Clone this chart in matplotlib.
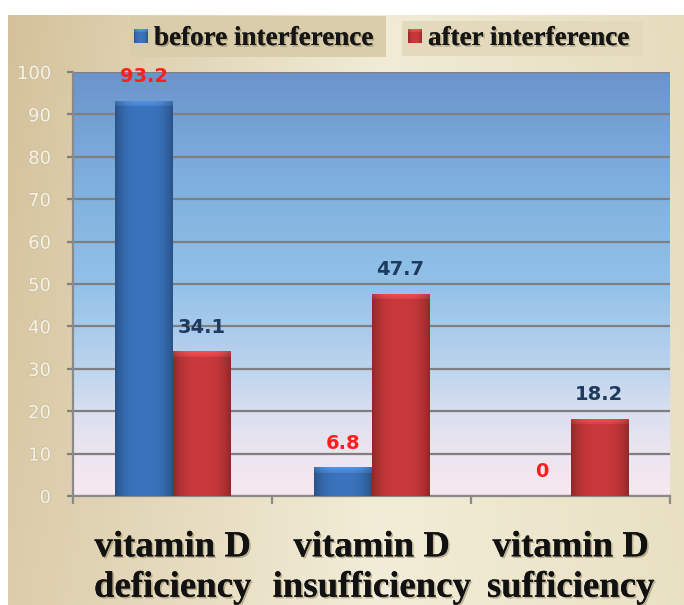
import matplotlib
matplotlib.use("Agg")
import matplotlib.pyplot as plt
import matplotlib.patheffects as pe
from matplotlib.patches import Rectangle
from matplotlib.colors import LinearSegmentedColormap, to_rgb
import numpy as np

# data
categories = ["vitamin D\ndeficiency", "vitamin D\ninsufficiency", "vitamin D\nsufficiency"]
series_names = ["before interference", "after interference"]
before = [93.2, 6.8, 0]
after = [34.1, 47.7, 18.2]
yticks = [0, 10, 20, 30, 40, 50, 60, 70, 80, 90, 100]

W, H = 684, 605
fig = plt.figure(figsize=(W / 100, H / 100), dpi=100)
fig.patch.set_facecolor("white")

# figure background (beige gradient), pixel coords
bg = fig.add_axes([0, 0, 1, 1])
bg.set_xlim(0, W)
bg.set_ylim(H, 0)
bg.axis("off")
xs = np.linspace(0, 1, 300)
ys = np.linspace(0, 1, 300)
gx, gy = np.meshgrid(xs, ys)
left_c = np.array(to_rgb("#d4c19a"))
mid_c = np.array(to_rgb("#f1ecd6"))
right_c = np.array(to_rgb("#e6dcbc"))
t = np.clip(gx / 0.55, 0, 1)[..., None]
t2 = np.clip((gx - 0.55) / 0.45, 0, 1)[..., None]
col = np.where(gx[..., None] < 0.55, left_c * (1 - t) + mid_c * t, mid_c * (1 - t2) + right_c * t2)
col = col * (1 - 0.25 * gy[..., None]) + np.array(to_rgb("#f4f0dc")) * 0.25 * gy[..., None]
bg.imshow(col, extent=[8, W, H, 15], aspect="auto", zorder=0)
bg.set_xlim(0, W)
bg.set_ylim(H, 0)


def shade_img(base, n_rows, bevel_rows=5, dark=0.72, light=1.2):
    c = np.array(to_rgb(base))
    xx = np.linspace(-1, 1, 60)
    prof = 1 - (1 - dark) * np.abs(xx) ** 3
    row = np.clip(c[None, :] * prof[:, None], 0, 1)
    img = np.repeat(row[None, :, :], max(n_rows, 1), axis=0)
    b = min(bevel_rows, n_rows)
    for i in range(b):
        f = light - (light - 1) * i / max(b, 1)
        img[i] = np.clip(img[i] * f + 0.04, 0, 1)
    return img


# legend boxes and entries
bg.add_patch(Rectangle((130, 16), 256, 41, facecolor="#dacdac", edgecolor="none", zorder=1))
bg.add_patch(Rectangle((402, 21), 241, 35, facecolor="#e3d9bc", edgecolor="none", zorder=1))
shadow = [pe.withSimplePatchShadow(offset=(1.2, -1.2), shadow_rgbFace="#8a7a5a", alpha=0.5), pe.Normal()]
for mx, my, c, name in [(134, 29, "#3a74bd", series_names[0]), (408, 29, "#c9383b", series_names[1])]:
    sq = Rectangle((mx, my), 14, 14, facecolor=c, edgecolor="none", zorder=2)
    bg.add_patch(sq)
    im = bg.imshow(shade_img(c, 14, 3), extent=[mx, mx + 14, my + 14, my], aspect="auto", zorder=3)
    im.set_clip_path(sq)
    bg.text(mx + 20, 45, name, fontsize=19.5, family="Liberation Serif", weight="bold",
            color="#151515", va="baseline", ha="left", zorder=4, path_effects=shadow)
bg.set_xlim(0, W)
bg.set_ylim(H, 0)

# main axes
x0, x1, y0, y1 = 73, 670, 72, 496
ax = fig.add_axes([x0 / W, 1 - y1 / H, (x1 - x0) / W, (y1 - y0) / H])
ax.patch.set_visible(False)

cmap = LinearSegmentedColormap.from_list("plotbg", [
    (0.0, "#f8e8f0"), (0.1, "#ece5f0"), (0.2, "#d9dfef"), (0.3, "#bcd4ee"),
    (0.5, "#92c1e8"), (0.7, "#82b3df"), (0.85, "#77a5d7"), (1.0, "#6a94cb")])
grad = np.linspace(0, 1, 256)[::-1, None]
ax.imshow(grad, cmap=cmap, extent=[-0.5, 2.5, 0, 100], aspect="auto", zorder=0)

x = np.arange(len(categories))
w = 0.29
px_per_unit = (y1 - y0) / 100
for vals, off, base, lab_col in [(before, -w / 2, "#3a74bd", "#ff1e1e"), (after, w / 2, "#c9383b", "#1f3a5f")]:
    bars = ax.bar(x + off, vals, width=w, color=base, edgecolor="none", zorder=2)
    for b, v in zip(bars, vals):
        if v > 0:
            n = int(round(v * px_per_unit))
            im = ax.imshow(shade_img(base, n, 6), extent=[b.get_x(), b.get_x() + w, 0, v],
                           aspect="auto", zorder=3)
            im.set_clip_path(b)
        ax.annotate(f"{v:g}", (b.get_x() + w / 2, v), xytext=(0, 10.5), textcoords="offset points",
                    ha="center", va="bottom", fontsize=14, weight="bold", color=lab_col, zorder=5)

ax.set_xlim(-0.5, 2.5)
ax.set_ylim(0, 100)
ax.set_yticks(yticks)
ax.yaxis.grid(True, color="#7f7f7f", lw=1.6)
ax.set_axisbelow(True)
for s in ["top", "right"]:
    ax.spines[s].set_visible(False)
for s in ["left", "bottom"]:
    ax.spines[s].set_color("#8a8a8a")
    ax.spines[s].set_linewidth(1.6)
ax.tick_params(axis="y", length=4, width=1.6, color="#7f7f7f", labelsize=13,
               labelcolor="#f6f2e6", pad=12)
for tl in ax.get_yticklabels():
    tl.set_path_effects([pe.withStroke(linewidth=1.2, foreground="#cdbf9e")])

ax.set_xticks([-0.5, 0.5, 1.5, 2.5])
ax.set_xticklabels([])
ax.tick_params(axis="x", which="major", length=6, width=1.6, color="#8a8a8a")
ax.set_xticks(x, minor=True)
ax.set_xticklabels(categories, minor=True, fontsize=26.5, family="Liberation Serif",
                   weight="bold", color="#111111", linespacing=1.2)
ax.tick_params(axis="x", which="minor", length=0, pad=24)
for tl in ax.get_xticklabels(minor=True):
    tl.set_path_effects(shadow)

fig.savefig("out.png", dpi=100)
